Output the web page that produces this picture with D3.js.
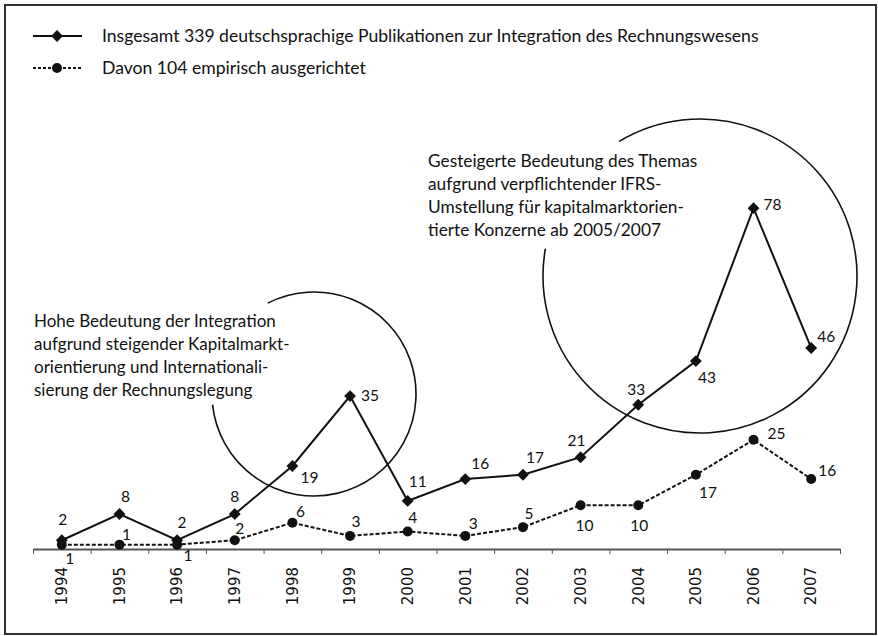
<!DOCTYPE html>
<html>
<head>
<meta charset="utf-8">
<script src="https://cdn.jsdelivr.net/npm/d3@7"></script>
<style>
  body { margin: 0; background: #fff; }
  text { font-family: Lato, "Open Sans", sans-serif; fill: #111; }
</style>
</head>
<body>
<div id="chart"></div>
<script>
// data
const years = ["1994","1995","1996","1997","1998","1999","2000","2001","2002","2003","2004","2005","2006","2007"];
const total = [2, 8, 2, 8, 19, 35, 11, 16, 17, 21, 33, 43, 78, 46];
const empirical = [1, 1, 1, 2, 6, 3, 4, 3, 5, 10, 10, 17, 25, 16];
const legendLabels = [
    "Insgesamt 339 deutschsprachige Publikationen zur Integration des Rechnungswesens",
    "Davon 104 empirisch ausgerichtet"
];
const note1 = ["Hohe Bedeutung der Integration", "aufgrund steigender Kapitalmarkt-", "orientierung und Internationali-", "sierung der Rechnungslegung"];
const note2 = ["Gesteigerte Bedeutung des Themas", "aufgrund verpflichtender IFRS-", "Umstellung für kapitalmarktorien-", "tierte Konzerne ab 2005/2007"];

// label offsets (dx, dy from the point to the label centre)
const totalOff = [[1,-21],[6,-17],[5,-18],[0,-17],[17,12],[20,0],[10,-19],[15,-16],[12,-17],[-4,-17],[-2,-15],[11,16],[19,-4],[15,-11]];
const empOff = [[8,14],[7,-10],[11,11],[5,-12],[8,-11],[6,-14],[5,-14],[8,-12],[6,-14],[4,20],[1,20],[12,18],[23,-6],[16,-9]];

const width = 878, height = 636;
const plot = {left: 33, right: 840, base: 549};

const svg = d3.select("#chart").append("svg")
    .attr("width", width)
    .attr("height", height);

// frame
svg.append("rect")
    .attr("x", 5).attr("y", 5)
    .attr("width", 871).attr("height", 629)
    .attr("fill", "none")
    .attr("stroke", "#333")
    .attr("stroke-width", 2);

// scales
let x = d3.scaleBand().domain(years).range([plot.left, plot.right]);
let xEdge = d3.scaleLinear().domain([0, years.length]).range([plot.left, plot.right]);
let y = d3.scaleLinear().domain([0, 80]).range([plot.base, plot.base - 80*4.37]);
let cx = (d, i) => x(years[i]) + x.bandwidth()/2;

// axis with ticks at band edges
let xAxis = d3.axisBottom(xEdge)
    .tickValues(d3.range(years.length + 1))
    .tickFormat("")
    .tickSize(5)
    .tickSizeOuter(0);
let ax = svg.append("g")
    .attr("transform", `translate(0,${plot.base})`)
    .call(xAxis);
ax.select(".domain").attr("stroke", "#555").attr("stroke-width", 2);
ax.selectAll(".tick line").attr("stroke", "#555");

svg.append("g").selectAll("text")
    .data(years)
    .enter().append("text")
    .text(d => d)
    .attr("transform", d => `translate(${x(d) + x.bandwidth()/2},567) rotate(-90)`)
    .attr("text-anchor", "end")
    .attr("dy", "0.35em")
    .style("font-family", "DejaVu Sans")
    .style("font-size", "15px");

// annotation circles (open arcs)
let arc = d3.arc();
function ring(cxp, cyp, r, a0, a1) {
    // angles in degrees, d3 convention (0 = up, clockwise)
    svg.append("path")
        .attr("d", arc({innerRadius: r, outerRadius: r, startAngle: a0*Math.PI/180, endAngle: a1*Math.PI/180}))
        .attr("transform", `translate(${cxp},${cyp})`)
        .attr("fill", "none")
        .attr("stroke", "#111")
        .attr("stroke-width", 1.6);
}
ring(314, 394, 102, -27, 264);
ring(700, 276, 157, -31, 280);

// lines
let line = (vals) => d3.line().x((d, i) => cx(d, i)).y(d => y(d))(vals);
svg.append("path")
    .attr("d", line(total))
    .attr("fill", "none")
    .attr("stroke", "#111")
    .attr("stroke-width", 2);
svg.append("path")
    .attr("d", line(empirical))
    .attr("fill", "none")
    .attr("stroke", "#111")
    .attr("stroke-width", 2)
    .attr("stroke-dasharray", "4,2");

// markers
let diamond = d3.symbol().type(d3.symbolSquare).size(70);
svg.append("g").selectAll("path")
    .data(total)
    .enter().append("path")
    .attr("d", diamond)
    .attr("transform", (d, i) => `translate(${cx(d, i)},${y(d)}) rotate(45)`)
    .attr("fill", "#111");
svg.append("g").selectAll("circle")
    .data(empirical)
    .enter().append("circle")
    .attr("cx", cx)
    .attr("cy", d => y(d))
    .attr("r", 5)
    .attr("fill", "#111");

// value labels
function labels(vals, off) {
    svg.append("g").selectAll("text")
        .data(vals)
        .enter().append("text")
        .text(d => d)
        .attr("x", (d, i) => cx(d, i) + off[i][0])
        .attr("y", (d, i) => y(d) + off[i][1])
        .attr("text-anchor", "middle")
        .attr("dy", "0.35em")
        .style("font-size", "15.5px");
}
labels(total, totalOff);
labels(empirical, empOff);

// legend
let legend = svg.append("g");
[36, 68].forEach((ly, k) => {
    legend.append("line")
        .attr("x1", 33).attr("x2", 82)
        .attr("y1", ly).attr("y2", ly)
        .attr("stroke", "#111")
        .attr("stroke-width", 2)
        .attr("stroke-dasharray", k ? "3,2" : null);
    if (k == 0) {
        legend.append("path").attr("d", diamond)
            .attr("transform", `translate(57,${ly}) rotate(45)`)
            .attr("fill", "#111");
    } else {
        legend.append("circle").attr("cx", 57).attr("cy", ly).attr("r", 5).attr("fill", "#111");
    }
    legend.append("text")
        .text(legendLabels[k])
        .attr("x", 102)
        .attr("y", ly)
        .attr("dy", "0.35em")
        .style("font-size", "17.6px");
});

// annotation texts
function note(lines, nx, ny, fs) {
    let t = svg.append("text").attr("x", nx).attr("y", ny).style("font-size", fs);
    lines.forEach((s, i) => {
        t.append("tspan").attr("x", nx).attr("dy", i ? 23 : 0).text(s);
    });
}
note(note1, 34, 327, "17px");
note(note2, 428, 167, "17.3px");
</script>
</body>
</html>
